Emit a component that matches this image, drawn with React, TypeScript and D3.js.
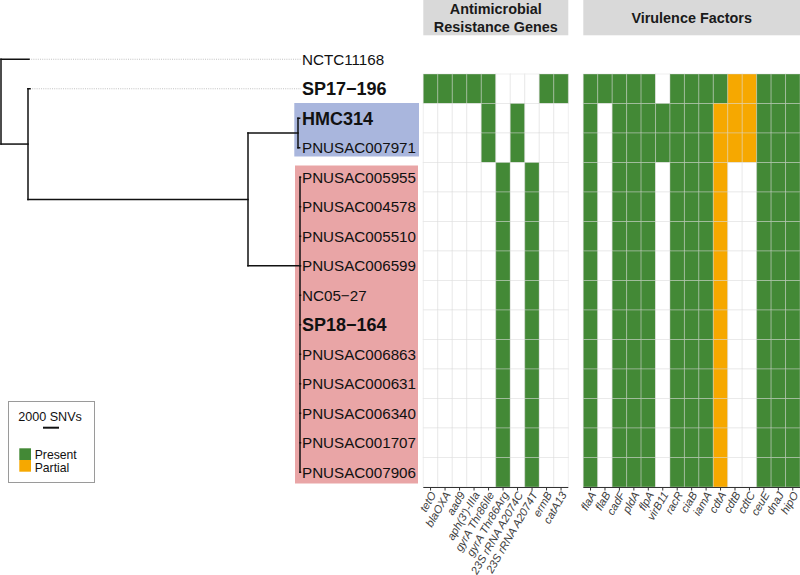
import React from "react";
import * as d3 from "d3";

// ---------- DATA ----------
const tipNames = [
  "NCTC11168",
  "SP17−196",
  "HMC314",
  "PNUSAC007971",
  "PNUSAC005955",
  "PNUSAC004578",
  "PNUSAC005510",
  "PNUSAC006599",
  "NC05−27",
  "SP18−164",
  "PNUSAC006863",
  "PNUSAC000631",
  "PNUSAC006340",
  "PNUSAC001707",
  "PNUSAC007906",
];
const boldTips = ["SP17−196", "HMC314", "SP18−164"];
const blueClade = ["HMC314", "PNUSAC007971"];
const pinkClade = tipNames.slice(4);

// tree: node id, parent id, branch length (SNVs)
const treeIds = ["root", "NCTC11168", "A", "SP17−196", "B", "H", "HMC314", "PNUSAC007971", "P", ...pinkClade];
const treeParents = [null, "root", "root", "A", "A", "B", "H", "H", "B", ...pinkClade.map(() => "P")];
const treeLengths = [0, 3500, 3375, 250, 27500, 6250, 200, 200, 6500, ...pinkClade.map(() => 60)];
const nodeYOverride: Record<string, string> = { P: "PNUSAC006599" };

const amrGenes = ["tetO", "blaOXA", "aad9", "aph(3')-IIIa", "gyrA Thr86Ile", "gyrA Thr86Arg", "23S rRNA A2074C", "23S rRNA A2074T", "ermB", "catA13"];
const vfGenes = ["flaA", "flaB", "cadF", "pldA", "flpA", "virB11", "racR", "ciaB", "iamA", "cdtA", "cdtB", "cdtC", "ceuE", "dnaJ", "hipO"];

// 0 absent, 1 present, 2 partial
const amrSP17 = [1, 1, 1, 1, 1, 0, 0, 0, 1, 1];
const amrBlue = [0, 0, 0, 0, 1, 0, 1, 0, 0, 0];
const amrPink = [0, 0, 0, 0, 0, 1, 0, 1, 0, 0];
const vfSP17 = [1, 1, 1, 1, 1, 0, 1, 1, 1, 1, 2, 2, 1, 1, 1];
const vfBlue = [1, 0, 1, 1, 1, 1, 1, 1, 1, 2, 2, 2, 1, 1, 1];
const vfPink = [1, 0, 1, 1, 1, 0, 1, 1, 1, 2, 0, 0, 1, 1, 1];

const heatRows = tipNames.slice(1);
const rowAmr = (name: string) => (name === "SP17−196" ? amrSP17 : blueClade.includes(name) ? amrBlue : amrPink);
const rowVf = (name: string) => (name === "SP17−196" ? vfSP17 : blueClade.includes(name) ? vfBlue : vfPink);

const legendLabels = ["Present", "Partial"];
const scaleBarSNVs = 2000;

// ---------- STYLE ----------
const GREEN = "#438936";
const ORANGE = "#f6a800";
const fillFor = (v: number) => (v === 1 ? GREEN : v === 2 ? ORANGE : "#ffffff");
const FONT = "'Liberation Sans', Arial, Helvetica, sans-serif";

export default function App() {
  const W = 800, H = 575;
  const y = d3.scaleBand<string>().domain(tipNames).range([44.5, 487]);
  const yc = (n: string) => (y(n) as number) + y.bandwidth() / 2;
  const xTree = d3.scaleLinear().domain([0, 37500]).range([1, 301]);
  const xAmr = d3.scaleBand<string>().domain(amrGenes).range([423.3, 568.3]);
  const xVf = d3.scaleBand<string>().domain(vfGenes).range([583.3, 800]);

  // build tree
  const depth: Record<string, number> = {};
  const children: Record<string, string[]> = {};
  treeIds.forEach((id, i) => {
    const p = treeParents[i];
    depth[id] = (p ? depth[p] : 0) + treeLengths[i];
    if (p) (children[p] = children[p] || []).push(id);
  });
  const nodeY: Record<string, number> = {};
  const getY = (id: string): number => {
    if (nodeY[id] !== undefined) return nodeY[id];
    let v: number;
    if (!children[id]) v = yc(id);
    else if (nodeYOverride[id]) { children[id].forEach(getY); v = yc(nodeYOverride[id]); }
    else v = d3.mean(children[id].map(getY)) as number;
    nodeY[id] = v;
    return v;
  };
  getY("root");

  const treeLines: { x1: number; y1: number; x2: number; y2: number }[] = [];
  treeIds.forEach((id, i) => {
    const p = treeParents[i];
    if (p) treeLines.push({ x1: xTree(depth[p]), y1: nodeY[id], x2: xTree(depth[id]), y2: nodeY[id] });
    if (children[id]) {
      const ys = children[id].map((c) => nodeY[c]);
      treeLines.push({ x1: xTree(depth[id]), y1: d3.min(ys)!, x2: xTree(depth[id]), y2: d3.max(ys)! });
    }
  });
  const labelX = 302;
  const alignX = xTree(37500);

  const blueTop = (y(blueClade[0]) as number) - 0.5;
  const blueBot = (y(blueClade[blueClade.length - 1]) as number) + y.bandwidth() - 6;
  const pinkTop = (y(pinkClade[0]) as number) + 3;
  const pinkBot = (y(pinkClade[pinkClade.length - 1]) as number) + y.bandwidth() - 3.5;

  const panelBottom = 487.5;
  const tileStroke = "rgba(215,215,215,0.4)";

  const renderPanel = (genes: string[], xs: d3.ScaleBand<string>, getRow: (n: string) => number[], key: string) => (
    <g key={key}>
      {heatRows.map((r) =>
        genes.map((g, j) => (
          <rect key={r + g} x={xs(g)} y={y(r)} width={xs.bandwidth()} height={y.bandwidth()}
            fill={fillFor(getRow(r)[j])} stroke={tileStroke} strokeWidth={1} />
        ))
      )}
      <line x1={xs.range()[0]} x2={xs.range()[1]} y1={panelBottom} y2={panelBottom} stroke="#333" strokeWidth={1} />
      {genes.map((g) => {
        const cx = (xs(g) as number) + xs.bandwidth() / 2;
        return (
          <g key={"t" + g}>
            <line x1={cx} x2={cx} y1={panelBottom} y2={panelBottom + 3} stroke="#333" strokeWidth={1} />
            <text transform={`translate(${cx - 1},${panelBottom + 3}) rotate(-60)`} textAnchor="end" dy="0.72em"
              fontSize={11.2} fontStyle="italic" fill="#3d3d3d" fontFamily={FONT}>{g}</text>
          </g>
        );
      })}
    </g>
  );

  return (
    <svg width={W} height={H} style={{ position: "absolute", left: 0, top: 0, background: "#fff" }} fontFamily={FONT}>
      {/* clade highlight boxes */}
      <rect x={294.3} y={blueTop} width={124.7} height={blueBot - blueTop} fill="#a9b6dd" />
      <rect x={295} y={pinkTop} width={123} height={pinkBot - pinkTop} fill="#e9a5a6" />

      {/* dotted alignment lines */}
      {tipNames.map((t) => (
        <line key={"d" + t} x1={xTree(depth[t])} x2={alignX} y1={yc(t)} y2={yc(t)} stroke="#999" strokeWidth={0.6} strokeDasharray="1,1.2" />
      ))}

      {/* tree */}
      {treeLines.map((l, i) => (
        <line key={"l" + i} {...l} stroke="#111" strokeWidth={1.5} strokeLinecap="square" />
      ))}

      {/* tip labels */}
      {tipNames.map((t) => {
        const b = boldTips.includes(t);
        return (
          <text key={"lab" + t} x={labelX} y={yc(t)} dy="0.36em" fontSize={b ? 18 : 15.2} fontWeight={b ? "bold" : "normal"} fill="#111">{t}</text>
        );
      })}

      {/* strips */}
      <rect x={xAmr.range()[0]} y={-1} width={xAmr.range()[1] - xAmr.range()[0]} height={36.3} fill="#d9d9d9" />
      <rect x={xVf.range()[0]} y={-1} width={xVf.range()[1] - xVf.range()[0] + 2} height={36.3} fill="#d9d9d9" />
      <text x={(xAmr.range()[0] + xAmr.range()[1]) / 2} y={14} textAnchor="middle" fontSize={14.4} fontWeight="bold" fill="#1a1a1a">Antimicrobial</text>
      <text x={(xAmr.range()[0] + xAmr.range()[1]) / 2} y={31.5} textAnchor="middle" fontSize={14.4} fontWeight="bold" fill="#1a1a1a">Resistance Genes</text>
      <text x={(xVf.range()[0] + xVf.range()[1]) / 2} y={22.7} textAnchor="middle" fontSize={14.4} fontWeight="bold" fill="#1a1a1a">Virulence Factors</text>

      {renderPanel(amrGenes, xAmr, rowAmr, "amr")}
      {renderPanel(vfGenes, xVf, rowVf, "vf")}

      {/* legend */}
      <rect x={8.5} y={401.5} width={86} height={81} fill="#fff" stroke="#9a9a9a" strokeWidth={1} />
      <text x={50} y={416} dy="0.36em" textAnchor="middle" fontSize={12.6} fill="#111">{`${scaleBarSNVs} SNVs`}</text>
      <line x1={43} x2={43 + xTree(scaleBarSNVs) - xTree(0)} y1={427.7} y2={427.7} stroke="#111" strokeWidth={2} />
      {legendLabels.map((lab, i) => (
        <g key={lab}>
          <rect x={19.3} y={448.3 + i * 11.7} width={11.7} height={11.7} fill={i === 0 ? GREEN : ORANGE} />
          <text x={34.7} y={454.2 + i * 13.6} dy="0.36em" fontSize={12.2} fill="#111">{lab}</text>
        </g>
      ))}
    </svg>
  );
}
